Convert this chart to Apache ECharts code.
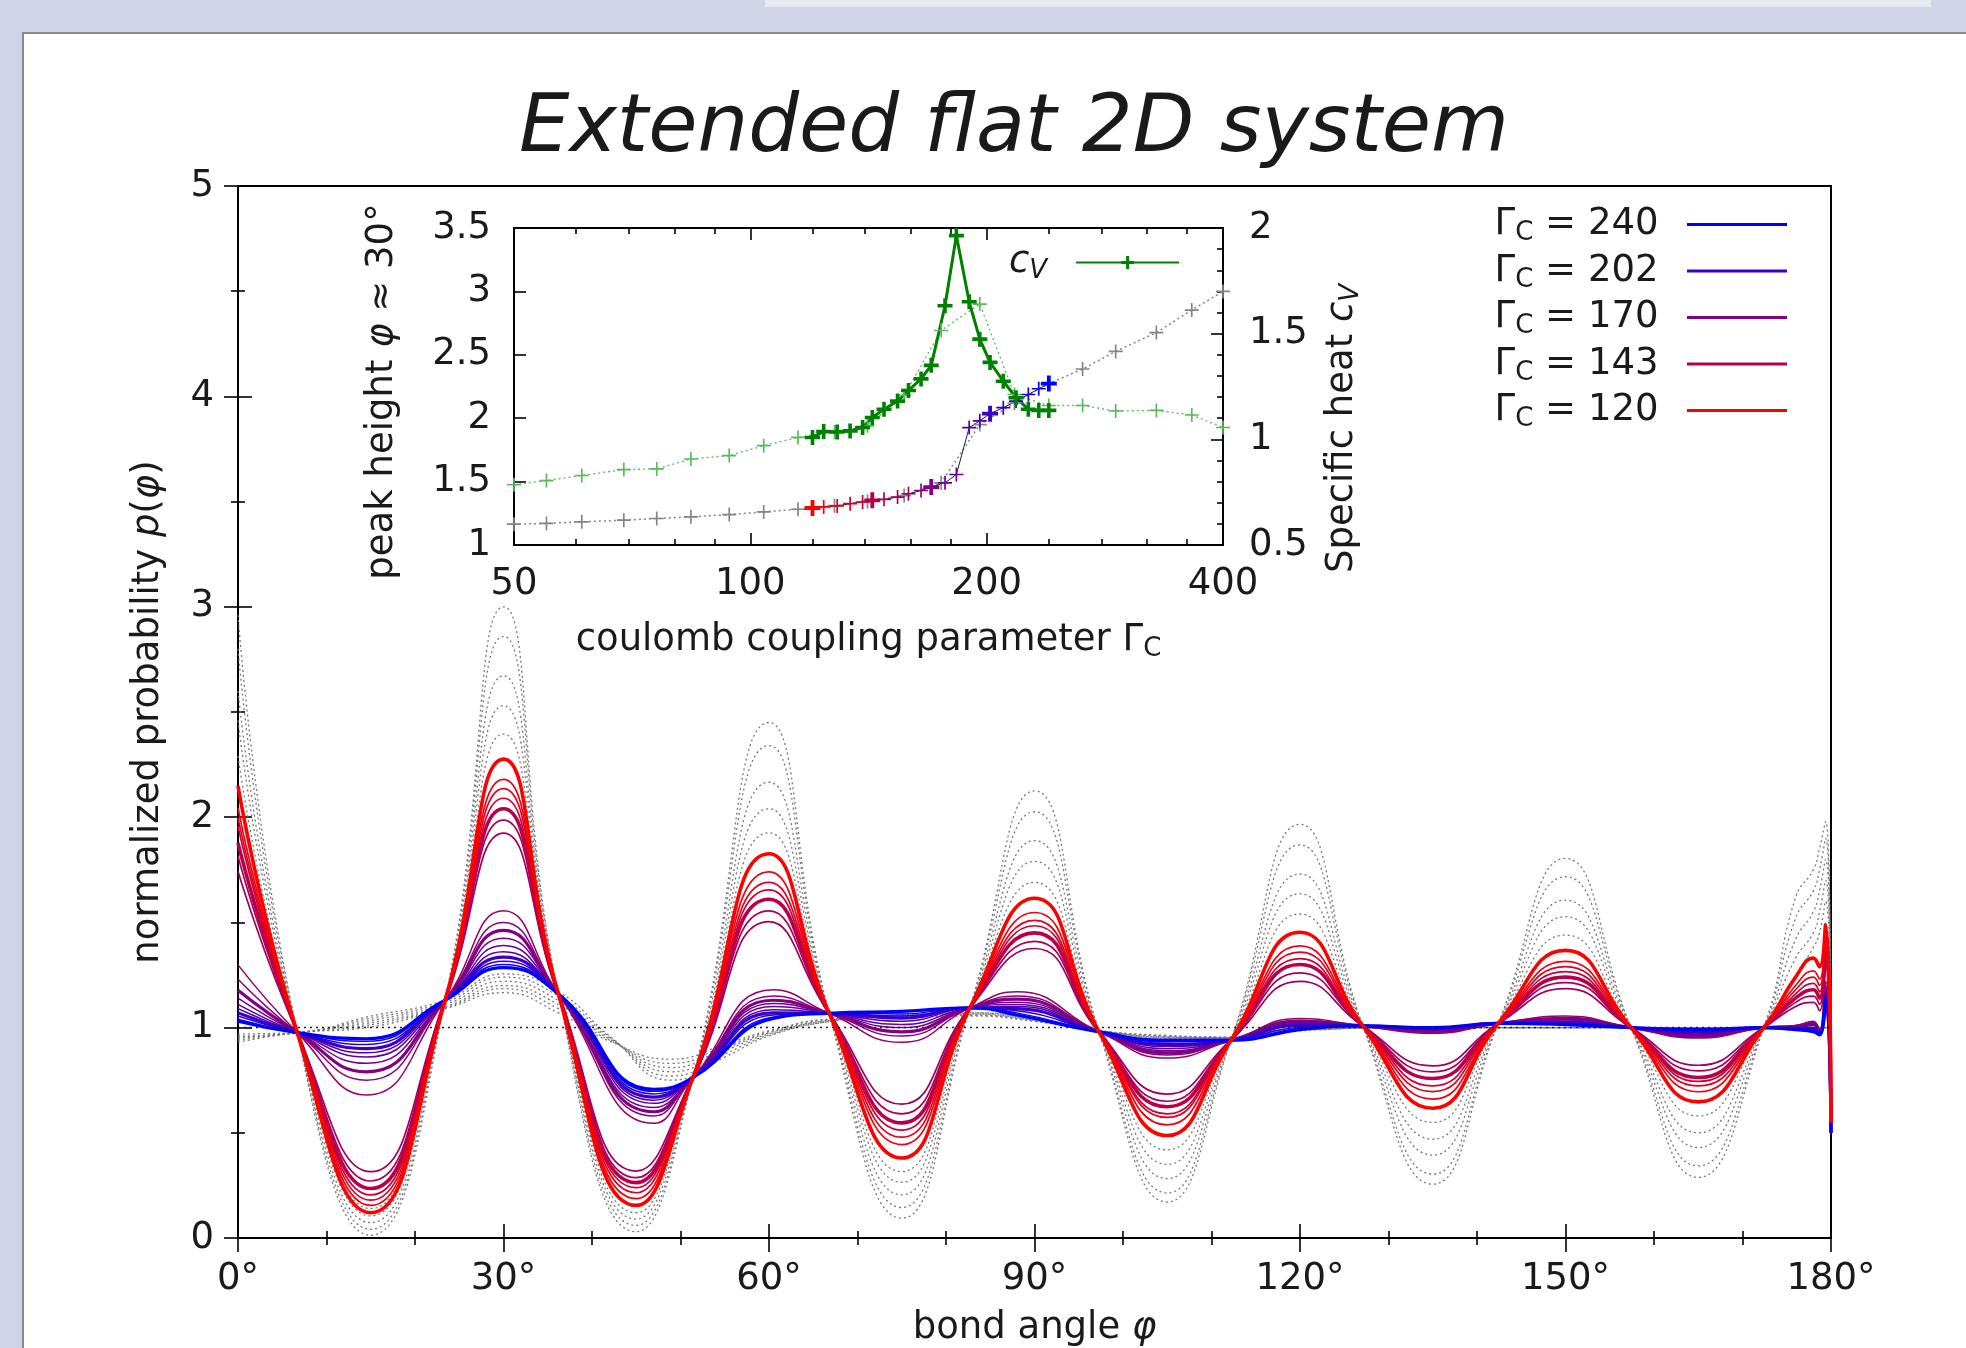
<!DOCTYPE html>
<html>
<head>
<meta charset="utf-8">
<title>Extended flat 2D system</title>
<script src="https://cdn.jsdelivr.net/npm/echarts@6.0.0/dist/echarts.min.js"></script>
<style>
  html, body { margin: 0; padding: 0; background: #cfd4e9; }
  #chart { width: 1966px; height: 1348px; }
</style>
</head>
<body>
<div id="chart"></div>
<script>
// ---------- main plot data (bond angle in degrees) ----------
// crossing points shared by all curves
const nodeAng = [6.7, 23.4, 36.2, 51.4, 66.8, 82.7, 97.3, 112.2, 127.1, 142.4, 157.4, 172.4];
const nodeVal = [0.976, 1.13, 1.16, 0.762, 1.068, 1.094, 0.98, 0.94, 1.008, 1.02, 1.0, 1.0];

// red group (large oscillations), Gamma_C 120 .. ~156
const redAng = [0, 15, 30, 45, 60, 75, 90, 105, 120, 135, 150, 165, 176, 178, 178.7, 179.4, 180];
const redGamma = [120, 125, 130, 136, 143, 150, 156];
const redVal = [
  [2.148, 0.12, 2.276, 0.155, 1.826, 0.38, 1.615, 0.487, 1.453, 0.617, 1.367, 0.647, 1.24, 1.33, 1.29, 1.49, 0.55],
  [2.044, 0.155, 2.18, 0.187, 1.74, 0.444, 1.547, 0.538, 1.388, 0.66, 1.315, 0.695, 1.2, 1.27, 1.23, 1.45, 0.55],
  [1.997, 0.18, 2.136, 0.215, 1.69, 0.479, 1.51, 0.573, 1.359, 0.696, 1.29, 0.723, 1.18, 1.24, 1.2, 1.42, 0.55],
  [1.957, 0.205, 2.09, 0.239, 1.655, 0.513, 1.484, 0.59, 1.328, 0.723, 1.266, 0.744, 1.16, 1.21, 1.17, 1.4, 0.55],
  [1.878, 0.235, 2.04, 0.263, 1.61, 0.547, 1.45, 0.624, 1.3, 0.758, 1.24, 0.763, 1.14, 1.18, 1.14, 1.38, 0.55],
  [1.814, 0.271, 1.986, 0.287, 1.555, 0.59, 1.41, 0.65, 1.26, 0.79, 1.214, 0.794, 1.12, 1.15, 1.11, 1.35, 0.55],
  [1.743, 0.315, 1.924, 0.318, 1.504, 0.636, 1.376, 0.684, 1.22, 0.818, 1.185, 0.821, 1.1, 1.12, 1.08, 1.3, 0.55]
];

// grey dotted group with the largest oscillations (same angles as red)
const greyAVal = [
  [2.96, 0.013, 3.0, 0.03, 2.45, 0.094, 2.125, 0.171, 1.966, 0.256, 1.804, 0.288, 1.62, 1.75, 1.85, 1.98, 1.0],
  [2.8, 0.041, 2.859, 0.06, 2.34, 0.145, 2.026, 0.214, 1.868, 0.304, 1.717, 0.343, 1.52, 1.65, 1.75, 1.9, 1.0],
  [2.6, 0.073, 2.672, 0.09, 2.166, 0.205, 1.889, 0.282, 1.73, 0.394, 1.606, 0.43, 1.42, 1.55, 1.65, 1.8, 1.0],
  [2.46, 0.105, 2.53, 0.12, 2.04, 0.265, 1.79, 0.35, 1.636, 0.47, 1.527, 0.5, 1.33, 1.45, 1.55, 1.7, 1.0],
  [2.29, 0.14, 2.395, 0.15, 1.926, 0.316, 1.69, 0.419, 1.54, 0.549, 1.44, 0.58, 1.25, 1.38, 1.45, 1.6, 1.0]
];

// purple -> blue group (small oscillations), Gamma_C ~160 .. 240
const purAng = [0, 14.5, 30, 47, 60.5, 75, 88, 105, 120, 135, 150, 165, 176, 178, 178.7, 179.4, 180];
const purGamma = [160, 165, 170, 177, 183, 190, 202, 212, 225, 240];
const purVal = [
  [1.298, 0.68, 1.555, 0.545, 1.18, 0.93, 1.17, 0.855, 1.043, 0.973, 1.055, 0.95, 1.01, 1.03, 0.99, 1.22, 0.5],
  [1.23, 0.75, 1.5, 0.58, 1.15, 0.96, 1.15, 0.87, 1.035, 0.978, 1.048, 0.955, 1.01, 1.025, 0.985, 1.2, 0.5],
  [1.177, 0.79, 1.462, 0.6, 1.13, 0.98, 1.135, 0.88, 1.03, 0.982, 1.042, 0.96, 1.005, 1.02, 0.98, 1.19, 0.5],
  [1.14, 0.83, 1.425, 0.62, 1.115, 1.0, 1.12, 0.89, 1.025, 0.986, 1.036, 0.965, 1.0, 1.015, 0.978, 1.18, 0.5],
  [1.11, 0.86, 1.39, 0.64, 1.1, 1.015, 1.11, 0.9, 1.02, 0.99, 1.03, 0.97, 1.0, 1.01, 0.975, 1.17, 0.5],
  [1.09, 0.88, 1.36, 0.655, 1.085, 1.03, 1.1, 0.91, 1.015, 0.993, 1.026, 0.975, 1.0, 1.0, 0.972, 1.16, 0.5],
  [1.07, 0.9, 1.335, 0.67, 1.07, 1.045, 1.09, 0.92, 1.01, 0.996, 1.022, 0.98, 0.995, 0.995, 0.97, 1.15, 0.5],
  [1.055, 0.92, 1.315, 0.685, 1.06, 1.055, 1.08, 0.925, 1.0, 0.998, 1.018, 0.983, 0.995, 0.99, 0.968, 1.14, 0.5],
  [1.04, 0.935, 1.3, 0.697, 1.05, 1.065, 1.07, 0.933, 0.995, 1.0, 1.016, 0.987, 0.99, 0.985, 0.966, 1.135, 0.5],
  [1.03, 0.947, 1.285, 0.707, 1.043, 1.077, 1.06, 0.94, 0.99, 1.0, 1.014, 0.99, 0.99, 0.98, 0.965, 1.13, 0.5]
];

// grey dotted group lying close to the blue curves
const greyBAng = [0, 6.7, 14.5, 23.4, 30, 36.2, 42, 49, 55, 60, 67, 75, 83, 90, 97.3, 105, 112, 120, 135, 150, 165, 180];
const greyBVal = [
  [0.97, 0.976, 1.05, 1.13, 1.255, 1.17, 0.96, 0.75, 0.86, 0.96, 1.03, 1.06, 1.07, 1.04, 0.985, 0.95, 0.95, 0.985, 1.0, 1.0, 1.0, 1.0],
  [0.96, 0.976, 1.04, 1.12, 1.24, 1.15, 0.955, 0.77, 0.875, 0.965, 1.03, 1.058, 1.07, 1.04, 0.985, 0.952, 0.95, 0.988, 1.0, 1.0, 1.0, 1.0],
  [0.955, 0.976, 1.03, 1.11, 1.22, 1.13, 0.95, 0.79, 0.89, 0.97, 1.035, 1.056, 1.065, 1.035, 0.985, 0.955, 0.952, 0.99, 1.0, 1.0, 1.0, 1.0],
  [0.95, 0.976, 1.02, 1.1, 1.2, 1.11, 0.945, 0.81, 0.9, 0.975, 1.035, 1.054, 1.06, 1.035, 0.985, 0.958, 0.953, 0.99, 1.0, 1.0, 1.0, 1.0],
  [0.94, 0.976, 1.01, 1.095, 1.185, 1.09, 0.94, 0.83, 0.91, 0.98, 1.04, 1.052, 1.06, 1.03, 0.985, 0.96, 0.954, 0.992, 1.0, 1.0, 1.0, 1.0],
  [0.93, 0.976, 1.0, 1.09, 1.166, 1.07, 0.935, 0.85, 0.92, 0.985, 1.04, 1.05, 1.055, 1.03, 0.985, 0.963, 0.955, 0.995, 1.0, 1.0, 1.0, 1.0]
];

const legendGamma = [240, 202, 170, 143, 120];

// ---------- inset data (coulomb coupling parameter) ----------
const gamAll = [50, 55, 61, 69, 76, 84, 94, 104, 115, 128, 141, 157, 175, 196, 217, 240, 265, 292, 329, 365, 400];
const peakAll = [1.164, 1.17, 1.183, 1.196, 1.209, 1.222, 1.24, 1.261, 1.282, 1.31, 1.344, 1.39, 1.49, 1.95, 2.12, 2.273, 2.388, 2.527, 2.675, 2.853, 3.0];
const cvAll = [0.785, 0.805, 0.829, 0.857, 0.86, 0.907, 0.923, 0.97, 1.009, 1.035, 1.064, 1.208, 1.515, 1.64, 1.212, 1.16, 1.16, 1.134, 1.137, 1.115, 1.056];

const gamC = [120, 124, 129, 134, 139, 143, 148, 154, 159, 165, 170, 177, 183, 190, 196, 202, 210, 218, 226, 233, 240];
const peakC = [1.292, 1.3, 1.308, 1.326, 1.339, 1.352, 1.36, 1.378, 1.404, 1.43, 1.457, 1.49, 1.556, 1.926, 1.979, 2.036, 2.083, 2.135, 2.187, 2.232, 2.273];
const cvC = [1.009, 1.037, 1.035, 1.04, 1.056, 1.103, 1.142, 1.181, 1.231, 1.286, 1.35, 1.632, 1.964, 1.651, 1.474, 1.364, 1.275, 1.197, 1.142, 1.137, 1.137];

const insetMajor = [50, 100, 200, 400];
const insetMinor = [60, 70, 80, 90, 120, 140, 160, 180, 240, 280, 320, 360];

// ---------- helpers ----------
const FF = 'DejaVu Sans';
const TC = '#1a1a1a';

// colour anchors taken from the legend
const anchors = [[120, [255, 0, 0]], [143, [184, 0, 74]], [170, [130, 0, 130]], [202, [58, 0, 200]], [240, [0, 0, 255]]];
function gColor(g) {
  for (let i = 0; i < anchors.length - 1; i++) {
    const [g0, c0] = anchors[i], [g1, c1] = anchors[i + 1];
    if (g <= g1) {
      const t = Math.max(0, (g - g0) / (g1 - g0));
      return 'rgb(' + c0.map((v, k) => Math.round(v + (c1[k] - v) * t)).join(',') + ')';
    }
  }
  return 'rgb(0,0,255)';
}

// curve points + shared crossing points, sorted by angle
function withNodes(ang, vals) {
  const pts = ang.map((a, i) => [a, vals[i]]);
  nodeAng.forEach((a, i) => pts.push([a, nodeVal[i]]));
  return pts.sort((p, q) => p[0] - q[0]);
}

const rich = {
  a: { fontFamily: FF, fontSize: 37, color: TC, lineHeight: 44 },
  i: { fontFamily: FF, fontSize: 37, color: TC, lineHeight: 44, fontStyle: 'italic' },
  s: { fontFamily: FF, fontSize: 26, color: TC, lineHeight: 22, verticalAlign: 'bottom' },
  si: { fontFamily: FF, fontSize: 26, color: TC, lineHeight: 22, verticalAlign: 'bottom', fontStyle: 'italic' }
};
const labelStyle = { fontFamily: FF, fontSize: 37, color: TC };
const tickLine = { color: '#000', width: 1.6 };

const plusThin = 'path://M0,4.4H10V5.6H0Z M4.4,0H5.6V10H4.4Z';
const plusBold = 'path://M0,3.8H10V6.2H0Z M3.8,0H6.2V10H3.8Z';
const legendBar = 'path://M0,0H100V3H0Z';

// ---------- series ----------
const series = [];

greyAVal.forEach((row, i) => {
  series.push({
    name: 'ga' + i, type: 'line', xAxisIndex: 0, yAxisIndex: 0,
    data: withNodes(redAng, row), smooth: 0.5, symbol: 'none', silent: true,
    lineStyle: { color: '#777', width: 1.3, type: [2, 3] },
    markLine: i === 0 ? {
      silent: true, symbol: 'none', label: { show: false },
      lineStyle: { color: '#222', width: 1.3, type: [2, 4] },
      data: [{ yAxis: 1 }]
    } : undefined
  });
});

greyBVal.forEach((row, i) => {
  series.push({
    name: 'gb' + i, type: 'line', xAxisIndex: 0, yAxisIndex: 0,
    data: greyBAng.map((a, k) => [a, row[k]]), smooth: 0.5, symbol: 'none', silent: true,
    lineStyle: { color: '#777', width: 1.3, type: [2, 3] }
  });
});

purVal.forEach((row, i) => {
  const g = purGamma[i];
  const thick = legendGamma.includes(g);
  const c = gColor(g);
  series.push({
    name: thick ? 'G' + g : 'p' + i, type: 'line', xAxisIndex: 0, yAxisIndex: 0,
    data: withNodes(purAng, row), smooth: 0.5, symbol: 'none', silent: true,
    itemStyle: { color: c },
    lineStyle: { color: c, width: thick ? 3.2 : 1.5 }
  });
});

for (let i = redVal.length - 1; i >= 0; i--) {
  const g = redGamma[i];
  const thick = legendGamma.includes(g);
  const c = gColor(g);
  series.push({
    name: thick ? 'G' + g : 'r' + i, type: 'line', xAxisIndex: 0, yAxisIndex: 0,
    data: withNodes(redAng, redVal[i]), smooth: 0.5, symbol: 'none', silent: true,
    itemStyle: { color: c },
    lineStyle: { color: c, width: thick ? 3.6 : 1.7 }
  });
}

// inset
series.push({
  name: 'cvRef', type: 'line', xAxisIndex: 2, yAxisIndex: 3,
  data: gamAll.map((g, i) => [g, cvAll[i]]),
  symbol: plusThin, symbolSize: 14, silent: true,
  itemStyle: { color: '#5cb85c' },
  lineStyle: { color: '#5cb85c', width: 1.3, type: [2, 3] }
});
series.push({
  name: 'peakRef', type: 'line', xAxisIndex: 2, yAxisIndex: 2,
  data: gamAll.map((g, i) => [g, peakAll[i]]),
  symbol: plusThin, symbolSize: 14, silent: true,
  itemStyle: { color: '#858585' },
  lineStyle: { color: '#858585', width: 1.5, type: [2, 3] }
});
series.push({
  name: 'peak', type: 'line', xAxisIndex: 2, yAxisIndex: 2,
  data: gamC.map((g, i) => {
    const big = legendGamma.includes(g);
    return {
      value: [g, peakC[i]],
      symbol: big ? plusBold : plusThin,
      symbolSize: big ? 16 : 14,
      itemStyle: { color: gColor(g) }
    };
  }),
  silent: true,
  lineStyle: { color: '#222', width: 1 }
});
series.push({
  name: 'cV', type: 'line', xAxisIndex: 2, yAxisIndex: 3,
  data: gamC.map((g, i) => [g, cvC[i]]),
  symbol: plusBold, symbolSize: 15, silent: true,
  itemStyle: { color: '#008000' },
  lineStyle: { color: '#008000', width: 3 }
});

// ---------- axes ----------
const LMIN = Math.log2(50), LMAX = Math.log2(400);
function insetX(pos, major, withLabel) {
  const vals = (major ? insetMajor : insetMinor).map(Math.log2);
  return {
    gridIndex: 1, type: 'value', position: pos, min: LMIN, max: LMAX,
    axisLine: { show: false }, splitLine: { show: false },
    axisTick: { show: true, inside: true, length: major ? 12 : 6, lineStyle: tickLine, customValues: vals },
    axisLabel: withLabel ? {
      show: true, customValues: vals, margin: 21, ...labelStyle,
      formatter: v => String(Math.round(Math.pow(2, v)))
    } : { show: false },
    name: withLabel ? '{a|coulomb coupling parameter Γ}{s|C}' : '',
    nameLocation: 'middle', nameGap: 73,
    nameTextStyle: { rich }
  };
}

const option = {
  animation: false,
  backgroundColor: '#cfd4e9',
  graphic: [
    { type: 'rect', z: -5, shape: { x: 765, y: 0, width: 1166, height: 7 }, style: { fill: '#e8e9ee' } },
    { type: 'rect', z: -5, shape: { x: 23, y: 33, width: 1960, height: 1330 }, style: { fill: '#ffffff', stroke: '#8a8a8a', lineWidth: 2 } }
  ],
  title: {
    text: 'Extended flat 2D system',
    left: 1009, top: 85, textAlign: 'center',
    textStyle: { fontFamily: FF, fontSize: 80, fontStyle: 'italic', fontWeight: 'normal', color: TC }
  },
  legend: [
    {
      data: legendGamma.map(g => 'G' + g),
      orient: 'vertical', right: 179, top: 206, padding: 0, itemGap: 6,
      align: 'right', icon: legendBar, itemWidth: 103, itemHeight: 3, selectedMode: false,
      formatter: n => '{a|Γ}{s|C}{a| = ' + n.slice(1) + '}',
      textStyle: { ...labelStyle, rich, padding: [0, 22, 0, 0] }
    },
    {
      data: ['cV'],
      left: 1009, top: 244, padding: 0,
      align: 'right', itemWidth: 103, itemHeight: 16, selectedMode: false,
      formatter: () => '{i|c}{si|V}',
      textStyle: { ...labelStyle, rich, padding: [0, 24, 0, 0] }
    }
  ],
  grid: [
    { left: 238, top: 186, width: 1593, height: 1052, outerBoundsMode: 'none', show: true, borderColor: '#000', borderWidth: 2, backgroundColor: 'transparent' },
    { left: 514, top: 228, width: 709, height: 317, outerBoundsMode: 'none', show: true, borderColor: '#000', borderWidth: 2, backgroundColor: '#fff' }
  ],
  xAxis: [
    {
      gridIndex: 0, type: 'value', position: 'bottom', min: 0, max: 180, interval: 30,
      axisLine: { show: false }, splitLine: { show: false },
      axisTick: { inside: true, length: 14, lineStyle: tickLine },
      minorTick: { show: true, splitNumber: 3, length: 7, lineStyle: tickLine },
      axisLabel: { ...labelStyle, margin: 23, formatter: v => v + '°' },
      name: '{a|bond angle }{i|φ}', nameLocation: 'middle', nameGap: 68,
      nameTextStyle: { rich }
    },
    {
      gridIndex: 0, type: 'value', position: 'top', min: 0, max: 180, interval: 30,
      axisLine: { show: false }, splitLine: { show: false },
      axisTick: { inside: true, length: 14, lineStyle: tickLine },
      minorTick: { show: true, splitNumber: 3, length: 7, lineStyle: tickLine },
      axisLabel: { show: false }
    },
    { gridIndex: 1, type: 'log', logBase: 2, min: 50, max: 400, show: false },
    insetX('bottom', true, true),
    insetX('bottom', false, false),
    insetX('top', true, false),
    insetX('top', false, false)
  ],
  yAxis: [
    {
      gridIndex: 0, type: 'value', position: 'left', min: 0, max: 5, interval: 1,
      axisLine: { show: false }, splitLine: { show: false },
      axisTick: { inside: true, length: 14, lineStyle: tickLine },
      minorTick: { show: true, splitNumber: 2, length: 7, lineStyle: tickLine },
      axisLabel: { ...labelStyle, margin: 24 },
      name: '{a|normalized probability }{i|p}{a|(}{i|φ}{a|)}',
      nameLocation: 'middle', nameRotate: 90, nameGap: 68,
      nameTextStyle: { rich }
    },
    {
      gridIndex: 0, type: 'value', position: 'right', min: 0, max: 5, interval: 1,
      axisLine: { show: false }, splitLine: { show: false },
      axisTick: { inside: true, length: 14, lineStyle: tickLine },
      minorTick: { show: true, splitNumber: 2, length: 7, lineStyle: tickLine },
      axisLabel: { show: false }
    },
    {
      gridIndex: 1, type: 'value', position: 'left', min: 1, max: 3.5, interval: 0.5,
      axisLine: { show: false }, splitLine: { show: false },
      axisTick: { inside: true, length: 12, lineStyle: tickLine },
      axisLabel: { ...labelStyle, margin: 23 },
      name: '{a|peak height }{i|φ}{a| ≈ 30°}',
      nameLocation: 'middle', nameRotate: 90, nameGap: 110,
      nameTextStyle: { rich, padding: [0, 10, 0, 0] }
    },
    {
      gridIndex: 1, type: 'value', position: 'right', min: 0.5, max: 2, interval: 0.5,
      axisLine: { show: false }, splitLine: { show: false },
      axisTick: { inside: true, length: 12, lineStyle: tickLine },
      minorTick: { show: true, splitNumber: 5, length: 6, lineStyle: tickLine },
      axisLabel: { ...labelStyle, margin: 26 },
      name: '{a|Specific heat }{i|c}{si|V}',
      nameLocation: 'middle', nameRotate: 90, nameGap: 97,
      nameTextStyle: { rich, padding: [0, 84, 0, 0] }
    }
  ],
  series
};

const chart = echarts.init(document.getElementById('chart'));
chart.setOption(option);
</script>
</body>
</html>
